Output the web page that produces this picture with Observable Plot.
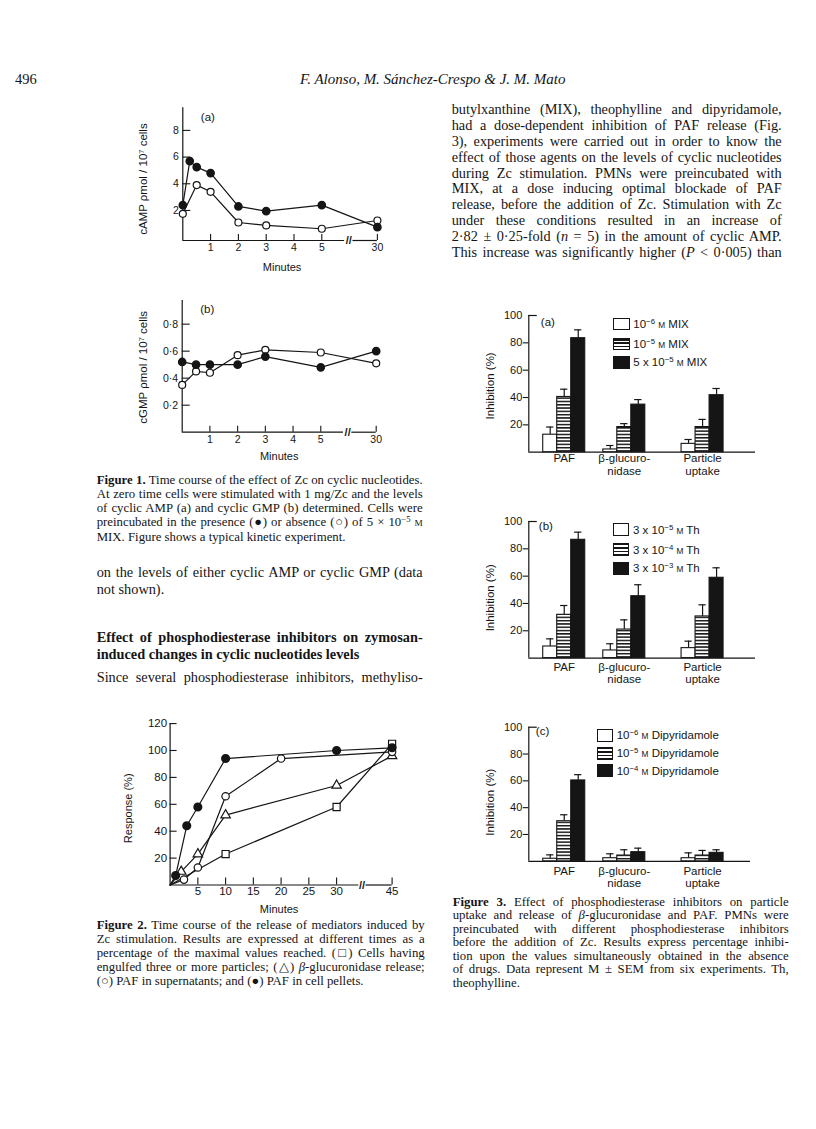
<!DOCTYPE html>
<html><head><meta charset="utf-8">
<script src="https://cdn.jsdelivr.net/npm/d3@7"></script>
<script src="https://cdn.jsdelivr.net/npm/@observablehq/plot@0.6"></script>
<style>
body{margin:0;background:#fff;}
#page{position:relative;width:816px;height:1129px;overflow:hidden;background:#fff;color:#151515;font-family:"Liberation Serif","Times New Roman",serif;}
.sc{font-size:0.72em;}
sup{font-size:0.68em;line-height:0;vertical-align:0.45em;}
.leg{position:absolute;font-family:"Liberation Sans",Arial,sans-serif;font-size:11.5px;white-space:nowrap;color:#151515;}
.sw{position:absolute;box-sizing:border-box;border:1px solid #151515;}
</style></head>
<body>
<svg width="0" height="0" style="position:absolute">
<defs><pattern id="hstripes" patternUnits="userSpaceOnUse" width="6" height="3.3">
<rect width="6" height="3.3" fill="#fff"/><rect width="6" height="1.5" fill="#151515"/></pattern></defs></svg>
<div id="page"></div>
<script>
// ================= DATA =================
// Figure 1 (a) cyclic AMP, (b) cyclic GMP ; minutes after Zc stimulation
const fig1aMixMinutes = [0, 0.25, 0.5, 1, 2, 3, 5, 30];
const fig1aMixCamp    = [2.4, 5.7, 5.25, 4.8, 2.3, 1.95, 2.4, 0.75];
const fig1aCtrlMinutes = [0, 0.5, 1, 2, 3, 5, 30];
const fig1aCtrlCamp    = [1.75, 3.9, 3.4, 1.1, 0.88, 0.63, 1.25];
const fig1bMinutes   = [0, 0.5, 1, 2, 3, 5, 30];
const fig1bMixCgmp   = [0.52, 0.50, 0.50, 0.50, 0.56, 0.48, 0.60];
const fig1bCtrlCgmp  = [0.35, 0.45, 0.44, 0.57, 0.61, 0.59, 0.51];
const fig1XTicks  = [1, 2, 3, 4, 5, 30];
const fig1aYTicks = [2, 4, 6, 8];
const fig1bYTicks = [0.2, 0.4, 0.6, 0.8];

// Figure 2 response (%) vs minutes
const fig2UptakeMinutes = [0, 10, 30, 45];
const fig2UptakeResp    = [0, 23, 58, 105];
const fig2GlucMinutes   = [0, 2, 5, 10, 30, 45];
const fig2GlucResp      = [0, 10, 23, 52, 74, 96];
const fig2SupMinutes    = [0, 2.5, 5, 10, 20, 45];
const fig2SupResp       = [0, 4, 13, 66, 94, 99];
const fig2PelletMinutes = [0, 1, 3, 5, 10, 30, 45];
const fig2PelletResp    = [0, 7, 44, 58, 94, 100, 102];
const fig2XTicks = [5, 10, 15, 20, 25, 30, 45];
const fig2YTicks = [20, 40, 60, 80, 100, 120];

// Figure 3 inhibition (%) mean and SEM
const fig3Categories = ["PAF", "β-glucuro-\nnidase", "Particle\nuptake"];
const fig3YTicks = [20, 40, 60, 80, 100];
const fig3aLegend = ["10<sup>−6</sup> <span class=sc>M</span> MIX", "10<sup>−5</sup> <span class=sc>M</span> MIX", "5 x 10<sup>−5</sup> <span class=sc>M</span> MIX"];
const fig3aLow = [12.8, 2.0, 6.1],  fig3aLowSem = [5.6, 2.9, 3.2];
const fig3aMid = [40.4, 18.4, 18.4], fig3aMidSem = [5.7, 2.5, 5.6];
const fig3aHigh = [83.4, 34.8, 41.7], fig3aHighSem = [6.1, 3.7, 4.9];
const fig3bLegend = ["3 x 10<sup>−5</sup> <span class=sc>M</span> Th", "3 x 10<sup>−4</sup> <span class=sc>M</span> Th", "3 x 10<sup>−3</sup> <span class=sc>M</span> Th"];
const fig3bLow = [8.5, 5.6, 7.3],   fig3bLowSem = [5.6, 4.9, 5.1];
const fig3bMid = [31.7, 20.9, 30.5], fig3bMidSem = [6.8, 7.1, 8.5];
const fig3bHigh = [86.6, 45.3, 58.8], fig3bHighSem = [5.6, 8.4, 7.3];
const fig3cLegend = ["10<sup>−6</sup> <span class=sc>M</span> Dipyridamole", "10<sup>−5</sup> <span class=sc>M</span> Dipyridamole", "10<sup>−4</sup> <span class=sc>M</span> Dipyridamole"];
const fig3cLow = [1.9, 2.3, 2.3],   fig3cLowSem = [2.9, 3.3, 4.0];
const fig3cMid = [29.9, 4.3, 4.3],  fig3cMidSem = [4.8, 4.3, 3.8];
const fig3cHigh = [60.3, 6.8, 6.3], fig3cHighSem = [4.3, 3.0, 2.3];

// ================= LAYOUT HELPERS =================
const ink = "#151515";
const sans = "'Liberation Sans', Arial, sans-serif";
const page = document.getElementById("page");
function margins(box, fr) {
  return {width: box.r - box.l, height: box.b - box.t,
    marginLeft: fr.l - box.l, marginRight: box.r - fr.r, marginTop: fr.t - box.t, marginBottom: box.b - fr.b};
}
function place(node, left, top) {
  const d = document.createElement("div");
  d.style.cssText = `position:absolute;left:${left}px;top:${top}px;`;
  d.append(node); page.append(d);
}
const plotStyle = {fontFamily: sans, fontSize: "10.5px", color: ink, background: "transparent", overflow: "visible"};

// ================= FIGURE 1 =================
const fig1Pos = d3.scaleLinear().domain([0, 5, 30]).range([0, 5, 7]); // broken time axis
function fig1Panel(o) {
  const m = margins(o.box, o.frame);
  const fw = o.frame.r - o.frame.l, fh = o.frame.b - o.frame.t;
  const y0 = o.yDomain[0];
  const rows = [
    ...o.mixT.map((t, i) => ({s: "mix", t, v: o.mixV[i]})),
    ...o.ctrlT.map((t, i) => ({s: "ctrl", t, v: o.ctrlV[i]}))
  ];
  const X = d => fig1Pos(d.t);
  const svg = Plot.plot({
    ...m, style: plotStyle,
    x: {domain: [0, 7], axis: null},
    y: {domain: o.yDomain, axis: null},
    marks: [
      Plot.ruleX([0], {strokeWidth: 1.2}),
      Plot.ruleY([y0], {x1: 0, x2: 5.82, strokeWidth: 1.2}),
      Plot.ruleY([y0], {x1: 6.12, x2: 7, strokeWidth: 1.2}),
      Plot.text([5.97], {x: d => d, y: () => y0, text: () => "//", fontSize: 11, fontWeight: "bold"}),
      Plot.ruleY(o.yTicks, {y: d => d, insetRight: fw - 8, strokeWidth: 1.1}),
      Plot.text(o.yTicks, {y: d => d, frameAnchor: "left", dx: -4, textAnchor: "end", text: o.yFmt}),
      Plot.ruleX(fig1XTicks, {x: d => fig1Pos(d), insetTop: fh - 6, strokeWidth: 1.1}),
      Plot.text(fig1XTicks, {x: d => fig1Pos(d), frameAnchor: "bottom", dy: o.tickDy, text: d => String(d)}),
      Plot.text(["Minutes"], {frameAnchor: "bottom", dy: o.titleDy, dx: o.titleDx, fontSize: 11}),
      Plot.text([o.ylabel], {frameAnchor: "left", textAnchor: "middle", rotate: -90, dx: o.ylabelDx, dy: o.ylabelDy, fontSize: 11.5}),
      Plot.text([o.panel], {frameAnchor: "top-left", dx: 18, dy: o.panelDy, fontSize: 11.5}),
      Plot.line(rows, {x: X, y: "v", z: "s", strokeWidth: 1.2}),
      Plot.dot(rows.filter(d => d.s === "ctrl"), {x: X, y: "v", r: 3.5, fill: "white", stroke: ink, strokeWidth: 1.2}),
      Plot.dot(rows.filter(d => d.s === "mix"), {x: X, y: "v", r: 3.6, fill: ink, stroke: ink})
    ]
  });
  place(svg, o.box.l, o.box.t);
}
fig1Panel({
  box: {l: 105, t: 95, r: 395, b: 285}, frame: {l: 182.3, r: 376.9, t: 107.2, b: 240},
  yDomain: [-0.25, 9.7], yTicks: fig1aYTicks, yFmt: d => String(d),
  mixT: fig1aMixMinutes, mixV: fig1aMixCamp, ctrlT: fig1aCtrlMinutes, ctrlV: fig1aCtrlCamp,
  tickDy: 10, titleDy: 30, titleDx: 2, ylabel: "cAMP ρmol / 10⁷ cells", ylabelDx: -39, ylabelDy: 5,
  panel: "(a)", panelDy: 5
});
fig1Panel({
  box: {l: 105, t: 290, r: 395, b: 475}, frame: {l: 181.7, r: 375.7, t: 300, b: 431.7},
  yDomain: [0, 0.975], yTicks: fig1bYTicks, yFmt: d => d3.format(".1f")(d).replace(".", "·"),
  mixT: fig1bMinutes, mixV: fig1bMixCgmp, ctrlT: fig1bMinutes, ctrlV: fig1bCtrlCgmp,
  tickDy: 11, titleDy: 27.5, titleDx: 0, ylabel: "cGMP ρmol / 10⁷ cells", ylabelDx: -38.7, ylabelDy: 1,
  panel: "(b)", panelDy: 4
});

// ================= FIGURE 2 =================
(function () {
  const box = {l: 100, t: 712, r: 410, b: 925}, fr = {l: 169.6, r: 391.6, t: 723.1, b: 884.5};
  const fw = fr.r - fr.l, fh = fr.b - fr.t;
  const pos = d3.scaleLinear().domain([0, 30, 45]).range([0, 30, 40]); // broken time axis
  const mk = (s, T, V) => T.map((t, i) => ({s, t, v: V[i]}));
  const rows = [
    ...mk("uptake", fig2UptakeMinutes, fig2UptakeResp),
    ...mk("gluc", fig2GlucMinutes, fig2GlucResp),
    ...mk("sup", fig2SupMinutes, fig2SupResp),
    ...mk("pellet", fig2PelletMinutes, fig2PelletResp)
  ];
  const X = d => pos(d.t);
  const pts = s => rows.filter(d => d.s === s && d.t > 0);
  const svg = Plot.plot({
    ...margins(box, fr), style: plotStyle,
    x: {domain: [0, 40], axis: null},
    y: {domain: [0, 120], axis: null},
    marks: [
      Plot.ruleX([0], {strokeWidth: 1.2}),
      Plot.ruleY([0], {x1: 0, x2: 34.0, strokeWidth: 1.2}),
      Plot.ruleY([0], {x1: 35.3, x2: 40, strokeWidth: 1.2}),
      Plot.text([34.6], {x: d => d, y: () => 0, text: () => "//", fontSize: 11, fontWeight: "bold"}),
      Plot.ruleY(fig2YTicks, {y: d => d, insetRight: fw - 7, strokeWidth: 1.1}),
      Plot.text(fig2YTicks, {y: d => d, frameAnchor: "left", dx: -3, textAnchor: "end", text: d => String(d), fontSize: 11.5}),
      Plot.ruleX(fig2XTicks, {x: d => pos(d), insetTop: fh - 7, strokeWidth: 1.1}),
      Plot.text(fig2XTicks, {x: d => pos(d), frameAnchor: "bottom", dy: 9.5, text: d => String(d), fontSize: 11.5}),
      Plot.text(["Minutes"], {frameAnchor: "bottom", dy: 27.5, dx: -2, fontSize: 11}),
      Plot.text(["Response (%)"], {frameAnchor: "left", textAnchor: "middle", rotate: -90, dx: -41.6, dy: 4, fontSize: 11}),
      Plot.line(rows, {x: X, y: "v", z: "s", strokeWidth: 1.2}),
      Plot.dot(pts("uptake"), {x: X, y: "v", symbol: "square", r: 4.0, fill: "white", stroke: ink, strokeWidth: 1.2}),
      Plot.dot(pts("gluc"), {x: X, y: "v", symbol: "triangle", r: 3.5, fill: "white", stroke: ink, strokeWidth: 1.2}),
      Plot.dot(pts("sup"), {x: X, y: "v", r: 3.7, fill: "white", stroke: ink, strokeWidth: 1.2}),
      Plot.dot(pts("pellet"), {x: X, y: "v", r: 3.8, fill: ink, stroke: ink})
    ]
  });
  place(svg, box.l, box.t);
})();

// ================= FIGURE 3 =================
const groupOffset = [0, 4.29, 9.88];     // layout of category groups (bar-width units)
const doseFills = ["white", "url(#hstripes)", ink];
function fig3Panel(o) {
  const fw = o.frame.r - o.frame.l, fh = o.frame.b - o.frame.t;
  const xDom = [-1.03, 15.16];
  const rows = [];
  o.means.forEach((arr, di) => arr.forEach((v, gi) => rows.push({gi, di, v, sem: o.sems[di][gi]})));
  const x1 = d => groupOffset[d.gi] + d.di, x2 = d => groupOffset[d.gi] + d.di + 1;
  const xc = d => groupOffset[d.gi] + d.di + 0.5;
  const marks = [
    Plot.ruleX([xDom[0]], {strokeWidth: 1.2}),
    Plot.ruleY([0], {x1: xDom[0], x2: o.baseEnd, strokeWidth: 1.2}),
    Plot.ruleY(fig3YTicks.filter(t => t < 100), {y: d => d, insetLeft: -5.5, insetRight: fw, strokeWidth: 1.1}),
    Plot.ruleY([100], {y: d => d, insetRight: fw - 8.5, strokeWidth: 1.2}),
    Plot.text(fig3YTicks, {y: d => d, frameAnchor: "left", dx: -6.5, textAnchor: "end", text: d => String(d), fontSize: 11}),
    Plot.text(["Inhibition (%)"], {frameAnchor: "left", textAnchor: "middle", rotate: -90, dx: -38.3, dy: o.ylabelDy, fontSize: 11.5}),
    Plot.text([o.panel], {frameAnchor: "top-left", dx: o.panelDx, dy: o.panelDy, fontSize: 11.5}),
    Plot.text(fig3Categories, {x: (d, i) => groupOffset[i] + 1.5, frameAnchor: "bottom", lineAnchor: "top", dy: o.catDy, lineHeight: o.catLH, fontSize: 11.5}),
    Plot.ruleX(rows, {x: xc, y1: "v", y2: d => d.v + d.sem, strokeWidth: 1.2}),
    Plot.ruleY(rows, {y: d => d.v + d.sem, x1: d => xc(d) - 0.26, x2: d => xc(d) + 0.26, strokeWidth: 1.2})
  ];
  [0, 1, 2].forEach(di => marks.push(
    Plot.rect(rows.filter(d => d.di === di), {x1, x2, y1: 0, y2: "v", fill: doseFills[di], stroke: ink, strokeWidth: 1.1})
  ));
  const svg = Plot.plot({
    ...margins(o.box, o.frame), style: plotStyle,
    x: {domain: xDom, axis: null},
    y: {domain: [0, 100], axis: null},
    marks
  });
  place(svg, o.box.l, o.box.t);
  // legend (swatches + labels)
  const kinds = ["background:#fff;", "background:repeating-linear-gradient(to bottom,#151515 0 1.5px,#fff 1.5px 3.3px);", "background:#151515;"];
  o.legend.forEach((html, i) => {
    const s = document.createElement("div");
    s.className = "sw";
    s.style.cssText += `left:${o.leg.x}px;top:${o.leg.tops[i]}px;width:${o.leg.w}px;height:${o.leg.h}px;${kinds[i]}`;
    page.append(s);
    const t = document.createElement("div");
    t.className = "leg";
    t.innerHTML = html;
    t.style.left = o.leg.tx + "px";
    t.style.top = (o.leg.tops[i] + o.leg.h / 2 - 8) + "px";
    t.style.lineHeight = "16px";
    page.append(t);
  });
}
fig3Panel({
  box: {l: 470, t: 305, r: 770, b: 492}, frame: {l: 528.3, r: 755, t: 315, b: 451.7},
  means: [fig3aLow, fig3aMid, fig3aHigh], sems: [fig3aLowSem, fig3aMidSem, fig3aHighSem],
  baseEnd: 15.16, panel: "(a)", panelDx: 12, panelDy: 2, ylabelDy: 2, catDy: 1, catLH: 1.12,
  legend: fig3aLegend, leg: {x: 613.3, w: 16.5, h: 12.5, tops: [317.5, 337.5, 356], tx: 633.3}
});
fig3Panel({
  box: {l: 470, t: 511, r: 770, b: 698}, frame: {l: 528.3, r: 755, t: 521, b: 657.6},
  means: [fig3bLow, fig3bMid, fig3bHigh], sems: [fig3bLowSem, fig3bMidSem, fig3bHighSem],
  baseEnd: 15.16, panel: "(b)", panelDx: 10, panelDy: 0, ylabelDy: 8, catDy: 4.5, catLH: 1.02,
  legend: fig3bLegend, leg: {x: 612.7, w: 16, h: 13, tops: [523, 543, 561.7], tx: 633}
});
fig3Panel({
  box: {l: 470, t: 716, r: 770, b: 903}, frame: {l: 528.3, r: 755, t: 726.7, b: 860.8},
  means: [fig3cLow, fig3cMid, fig3cHigh], sems: [fig3cLowSem, fig3cMidSem, fig3cHighSem],
  baseEnd: 14.8, panel: "(c)", panelDx: 7, panelDy: 0, ylabelDy: 8, catDy: 5, catLH: 1.06,
  legend: fig3cLegend, leg: {x: 597.3, w: 16, h: 12.5, tops: [729, 747, 764.3], tx: 616.7}
});

// ================= TEXT =================
function textLine(html, x, yc, w, size, opt = {}) {
  const d = document.createElement("div");
  d.style.cssText = `position:absolute;left:${x}px;top:${yc - size * 0.64}px;font-size:${size}px;line-height:${size * 1.2}px;white-space:nowrap;` +
    (opt.bold ? "font-weight:bold;" : "") + (opt.italic ? "font-style:italic;" : "");
  d.innerHTML = html;
  page.append(d);
  if (w) {
    const nat = d.getBoundingClientRect().width;
    if (nat > w - 0.5) {
      const n = d.textContent.length;
      d.style.letterSpacing = ((w - nat - 1) / n) + "px";
    }
    if (opt.justify !== false) {
      d.style.width = w + "px";
      d.style.whiteSpace = "normal";
      d.style.textAlign = "justify";
      d.style.textAlignLast = "justify";
    }
  }
}
// running head
textLine("496", 15, 80, 0, 14.5);
textLine("F. Alonso, M. Sánchez-Crespo &amp; J. M. Mato", 300, 80, 0, 15, {italic: true});

// right column body
const rc = [
  "butylxanthine (MIX), theophylline and dipyridamole,",
  "had a dose-dependent inhibition of PAF release (Fig.",
  "3), experiments were carried out in order to know the",
  "effect of those agents on the levels of cyclic nucleotides",
  "during Zc stimulation. PMNs were preincubated with",
  "MIX, at a dose inducing optimal blockade of PAF",
  "release, before the addition of Zc. Stimulation with Zc",
  "under these conditions resulted in an increase of",
  "2·82 ± 0·25-fold (<i>n</i> = 5) in the amount of cyclic AMP.",
  "This increase was significantly higher (<i>P</i> &lt; 0·005) than"
];
rc.forEach((s, i) => textLine(s, 451.7, 110 + i * 15.93, 330, 14.3));

// Figure 1 caption
const cap1 = [
  "<b>Figure 1.</b> Time course of the effect of Zc on cyclic nucleotides.",
  "At zero time cells were stimulated with 1 mg/Zc and the levels",
  "of cyclic AMP (a) and cyclic GMP (b) determined. Cells were",
  "preincubated in the presence (●) or absence (○) of 5 × 10<sup>−5</sup> <span class=sc>M</span>",
  "MIX. Figure shows a typical kinetic experiment."
];
cap1.forEach((s, i) => textLine(s, 96.7, 480.7 + i * 14.25, 326, 12.8, {justify: i < 4}));

// left column body
textLine("on the levels of either cyclic AMP or cyclic GMP (data", 96.7, 573.3, 326, 14.3);
textLine("not shown).", 96.7, 590, 0, 14.3);
textLine("Effect of phosphodiesterase inhibitors on zymosan-", 96.7, 638.3, 326, 14.3, {bold: true});
textLine("induced changes in cyclic nucleotides levels", 96.7, 655, 0, 14.3, {bold: true});
textLine("Since several phosphodiesterase inhibitors, methyliso-", 96.7, 678.3, 326, 14.3);

// Figure 2 caption
const cap2 = [
  "<b>Figure 2.</b> Time course of the release of mediators induced by",
  "Zc stimulation. Results are expressed at different times as a",
  "percentage of the maximal values reached. (□) Cells having",
  "engulfed three or more particles; (△) <i>β</i>-glucuronidase release;",
  "(○) PAF in supernatants; and (●) PAF in cell pellets."
];
cap2.forEach((s, i) => textLine(s, 96.7, 926 + i * 13.95, 328, 12.8, {justify: i < 4}));

// Figure 3 caption
const cap3 = [
  "<b>Figure 3.</b> Effect of phosphodiesterase inhibitors on particle",
  "uptake and release of <i>β</i>-glucuronidase and PAF. PMNs were",
  "preincubated with different phosphodiesterase inhibitors",
  "before the addition of Zc. Results express percentage inhibi-",
  "tion upon the values simultaneously obtained in the absence",
  "of drugs. Data represent M ± SEM from six experiments. Th,",
  "theophylline."
];
cap3.forEach((s, i) => textLine(s, 452.7, 902.7 + i * 13.55, 336, 12.8, {justify: i < 6}));
</script>
</body></html>
